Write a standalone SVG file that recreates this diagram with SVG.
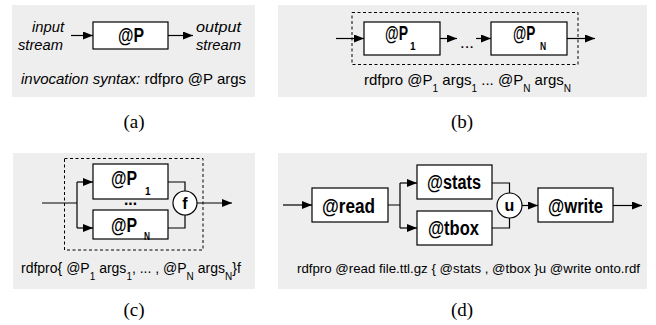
<svg xmlns="http://www.w3.org/2000/svg" width="656" height="325" viewBox="0 0 656 325">
  <defs>
    <marker id="arr" markerUnits="userSpaceOnUse" markerWidth="11" markerHeight="9" refX="10" refY="4" orient="auto">
      <path d="M0,0 L10,4 L0,8 z" fill="#000"/>
    </marker>
    <style>
      .panel { fill: #eeeeee; }
      .box { fill: #ffffff; stroke: #000; stroke-width: 1.2; }
      .dash { fill: none; stroke: #000; stroke-width: 1; stroke-dasharray: 3 2.5; }
      .wire { fill: none; stroke: #000; stroke-width: 1.2; }
      .arrow { fill: none; stroke: #000; stroke-width: 1.2; marker-end: url(#arr); }
      text { font-family: "Liberation Sans", Arial, sans-serif; fill: #000; }
      .lbl { font-size: 20px; font-weight: bold; }
      .sub { font-size: 10px; font-weight: bold; }
      .cap { font-size: 15px; }
      .capsub { font-size: 10px; }
      .dots { font-size: 16px; font-weight: normal; }
      .tag { font-family: "Liberation Serif", "Times New Roman", serif; font-size: 19px; }
    </style>
  </defs>

  <!-- panel backgrounds -->
  <rect class="panel" x="12" y="5" width="243" height="92"/>
  <rect class="panel" x="278" y="5" width="369" height="92"/>
  <rect class="panel" x="13" y="153" width="242" height="136"/>
  <rect class="panel" x="278" y="153" width="369" height="136"/>

  <!-- (a) single processor -->
  <g id="a-input" font-style="italic">
    <text class="cap" x="32" y="32" textLength="32" lengthAdjust="spacingAndGlyphs">input</text>
    <text class="cap" x="18" y="50" textLength="45" lengthAdjust="spacingAndGlyphs">stream</text>
  </g>
  <g id="a-P">
    <rect class="box" x="93" y="22" width="75" height="27"/>
    <text class="lbl" x="118" y="42" textLength="26" lengthAdjust="spacingAndGlyphs">@P</text>
  </g>
  <g id="a-output" font-style="italic">
    <text class="cap" x="196" y="32" textLength="45" lengthAdjust="spacingAndGlyphs">output</text>
    <text class="cap" x="196" y="50" textLength="45" lengthAdjust="spacingAndGlyphs">stream</text>
  </g>
  <text class="cap" x="21" y="84"><tspan font-style="italic">invocation syntax:</tspan> rdfpro @P args</text>

  <!-- (b) sequence -->
  <rect class="dash" x="352" y="12.5" width="226" height="52"/>
  <g id="b-P1">
    <rect class="box" x="364" y="22" width="76" height="33"/>
    <text class="lbl" transform="translate(385,40) scale(0.7,1)">@P</text>
    <text class="sub" x="410" y="50">1</text>
  </g>
  <g id="b-PN">
    <rect class="box" x="491" y="22" width="76" height="33"/>
    <text class="lbl" transform="translate(513,40) scale(0.68,1)">@P</text>
    <text class="sub" transform="translate(540,50) scale(0.85,1)">N</text>
  </g>
  <text class="dots" x="460" y="48" textLength="14" lengthAdjust="spacingAndGlyphs">...</text>
  <text class="cap" x="364" y="85">rdfpro @P<tspan class="capsub" dy="7">1</tspan><tspan dy="-7"> args</tspan><tspan class="capsub" dy="7">1</tspan><tspan dy="-7"> ... @P</tspan><tspan class="capsub" dy="7">N</tspan><tspan dy="-7"> args</tspan><tspan class="capsub" dy="7">N</tspan></text>

  <!-- (c) parallel composition -->
  <rect class="dash" x="64.5" y="158.5" width="138.5" height="91.5"/>
  <g id="c-P1">
    <rect class="box" x="93" y="164" width="75" height="35"/>
    <text class="lbl" x="111" y="185" textLength="26" lengthAdjust="spacingAndGlyphs">@P</text>
    <text class="sub" x="145" y="195">1</text>
  </g>
  <g id="c-PN">
    <rect class="box" x="93" y="210" width="75" height="29"/>
    <text class="lbl" x="111" y="232" textLength="26" lengthAdjust="spacingAndGlyphs">@P</text>
    <text class="sub" x="144" y="240" textLength="6" lengthAdjust="spacingAndGlyphs">N</text>
  </g>
  <text x="124" y="205" font-size="16" font-weight="bold" textLength="13" lengthAdjust="spacingAndGlyphs">...</text>
  <g id="c-f">
    <circle class="box" cx="185" cy="203" r="12"/>
    <text x="185" y="209" text-anchor="middle" font-size="16" font-weight="bold">f</text>
  </g>
  <text x="21" y="273" font-size="14">rdfpro{ @P<tspan class="capsub" dy="7">1</tspan><tspan dy="-7"> args</tspan><tspan class="capsub" dy="7">1</tspan><tspan dy="-7">, ... , @P</tspan><tspan class="capsub" dy="7">N</tspan><tspan dy="-7"> args</tspan><tspan class="capsub" dy="7">N</tspan><tspan dy="-7">}f</tspan></text>

  <!-- (d) example pipeline -->
  <g id="d-read">
    <rect class="box" x="312" y="188" width="76" height="34"/>
    <text class="lbl" x="322" y="213" textLength="53" lengthAdjust="spacingAndGlyphs">@read</text>
  </g>
  <g id="d-stats">
    <rect class="box" x="417" y="165" width="75" height="34"/>
    <text class="lbl" x="427" y="189" textLength="54" lengthAdjust="spacingAndGlyphs">@stats</text>
  </g>
  <g id="d-tbox">
    <rect class="box" x="417" y="211" width="75" height="34"/>
    <text class="lbl" x="428" y="235" textLength="51" lengthAdjust="spacingAndGlyphs">@tbox</text>
  </g>
  <g id="d-u">
    <circle class="box" cx="509.5" cy="205.5" r="12.5"/>
    <text x="509.5" y="211" text-anchor="middle" font-size="16" font-weight="bold">u</text>
  </g>
  <g id="d-write">
    <rect class="box" x="538" y="188" width="75" height="34"/>
    <text class="lbl" x="548" y="213" textLength="55" lengthAdjust="spacingAndGlyphs">@write</text>
  </g>
  <text x="297" y="273" font-size="13.5" textLength="343" lengthAdjust="spacingAndGlyphs">rdfpro @read file.ttl.gz { @stats , @tbox }u @write onto.rdf</text>

  <!-- connectors -->
  <g id="connectors">
    <path class="arrow" d="M71,35.5 H93"/>
    <path class="arrow" d="M168,35.5 H193"/>

    <path class="arrow" d="M336,38.5 H364"/>
    <path class="arrow" d="M440,38.5 H457"/>
    <path class="arrow" d="M476,38.5 H491"/>
    <path class="arrow" d="M567,38.5 H595"/>

    <path class="wire" d="M42,203 H77 M77,182 V228"/>
    <path class="arrow" d="M77,182 H93"/>
    <path class="arrow" d="M77,228 H93"/>
    <path class="wire" d="M168,182 H185 V191 M168,228 H185 V215"/>
    <path class="arrow" d="M197,203 H232"/>

    <path class="arrow" d="M283,205 H312"/>
    <path class="wire" d="M388,205 H400 M400,183 V228"/>
    <path class="arrow" d="M400,183 H417"/>
    <path class="arrow" d="M400,228 H417"/>
    <path class="wire" d="M492,183 H509.5 V193 M492,228 H509.5 V218"/>
    <path class="arrow" d="M522,205.5 H538"/>
    <path class="arrow" d="M613,205.5 H642"/>
  </g>

  <!-- sub-figure tags -->
  <text class="tag" x="134" y="128" text-anchor="middle">(a)</text>
  <text class="tag" x="462" y="128" text-anchor="middle">(b)</text>
  <text class="tag" x="134" y="316" text-anchor="middle">(c)</text>
  <text class="tag" x="462" y="316" text-anchor="middle">(d)</text>
</svg>
